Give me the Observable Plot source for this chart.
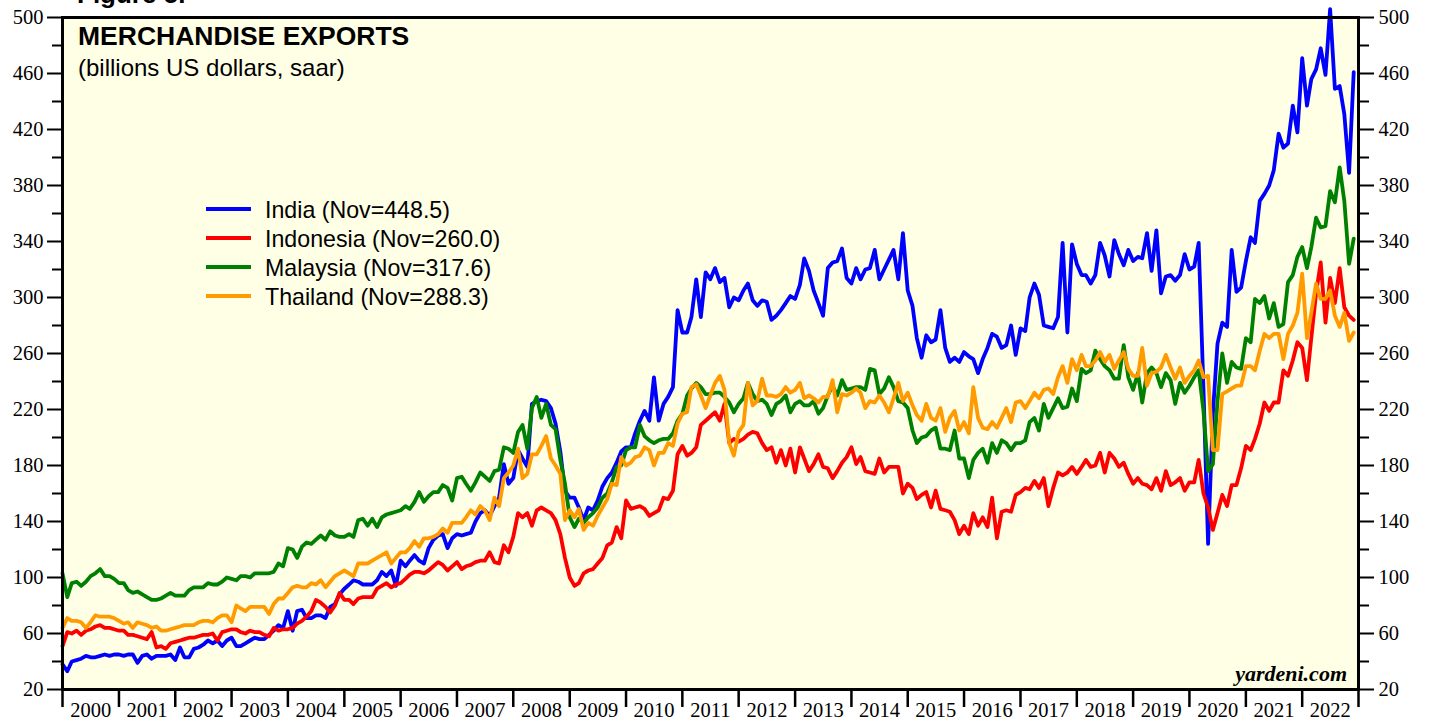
<!DOCTYPE html>
<html>
<head>
<meta charset="utf-8">
<script src="https://cdn.jsdelivr.net/npm/d3@7"></script>
<script src="https://cdn.jsdelivr.net/npm/@observablehq/plot@0.6"></script>
<style>
  html, body { margin: 0; padding: 0; background: #ffffff; }
  #chart { width: 1429px; height: 721px; overflow: hidden; }
</style>
</head>
<body>
<div id="chart"></div>
<script>
// Monthly values, starting January 2000 (one value per month)
const india = [
  38, 33, 40, 41, 42, 44, 43, 43, 44, 45, 44, 45,
  45, 44, 45, 45, 39, 44, 45, 42, 44, 44, 44, 45,
  41, 50, 43, 43, 49, 50, 52, 55, 53, 55, 51, 55,
  57, 51, 51, 53, 55, 57, 56, 56, 59, 62, 66, 64,
  76, 62, 76, 77, 71, 71, 73, 73, 71, 79, 81, 88,
  92, 95, 98, 97, 95, 95, 95, 98, 104, 101, 105, 94,
  112, 108, 112, 116, 112, 110, 121, 127, 130, 131, 121, 128,
  131, 130, 131, 132, 140, 146, 148, 144, 151, 157, 181, 167,
  171, 191, 185, 179, 224, 226, 227, 226, 221, 210, 190, 162,
  157, 157, 150, 141, 150, 148, 155, 165, 171, 175, 182, 190,
  193, 193, 203, 212, 219, 212, 243, 212, 224, 229, 236, 291,
  275, 275, 286, 313, 286, 318, 313, 321, 311, 314, 293, 300,
  298, 305, 310, 298, 294, 298, 297, 284, 287, 291, 296, 301,
  299, 309, 328, 319, 305, 296, 287, 321, 325, 326, 335, 314,
  310, 321, 313, 320, 321, 334, 313, 320, 327, 334, 313, 346,
  305, 294, 271, 257, 273, 268, 270, 291, 264, 254, 257, 254,
  261, 258, 256, 246, 256, 264, 274, 272, 264, 266, 280, 259,
  278, 276, 300, 310, 302, 280, 279, 278, 286, 339, 275, 338,
  324, 316, 316, 310, 316, 339, 330, 315, 341, 331, 323, 334,
  326, 329, 328, 346, 319, 348, 303, 315, 316, 312, 316, 331,
  320, 322, 339, 235, 124, 217, 267, 282, 279, 334, 304, 307,
  326, 343, 339, 369, 374, 380, 391, 417, 407, 410, 437, 418,
  471, 437, 456, 463, 478, 459, 506, 449, 451, 431, 389, 461
];
const indonesia = [
  51, 61, 60, 62, 59, 62, 63, 65, 66, 64, 64, 63,
  62, 62, 59, 59, 58, 57, 56, 61, 50, 51, 49, 53,
  54, 55, 56, 57, 57, 58, 59, 59, 60, 55, 61, 62,
  63, 63, 61, 60, 62, 61, 61, 59, 58, 64, 62, 63,
  63, 64, 67, 69, 72, 76, 84, 82, 79, 75, 80, 89,
  84, 84, 81, 85, 86, 86, 86, 92, 94, 96, 93, 95,
  96, 99, 102, 104, 104, 103, 105, 108, 111, 109, 105, 108,
  111, 106, 108, 109, 111, 112, 112, 118, 111, 110, 123, 118,
  129, 146, 143, 146, 137, 148, 150, 148, 146, 141, 131, 114,
  100, 94, 96, 103, 105, 106, 110, 114, 123, 125, 136, 128,
  155, 149, 150, 151, 149, 144, 146, 148, 157, 156, 162, 188,
  194, 187, 189, 193, 209, 212, 215, 218, 212, 224, 196, 199,
  197, 199, 202, 204, 203, 196, 191, 193, 182, 191, 180, 192,
  175, 193, 185, 176, 181, 188, 179, 178, 171, 176, 182, 186,
  193, 181, 186, 176, 175, 174, 185, 175, 179, 179, 179, 160,
  167, 164, 156, 159, 161, 150, 162, 149, 148, 147, 141, 131,
  137, 131, 146, 137, 143, 136, 157, 128, 147, 148, 147, 159,
  161, 164, 163, 169, 164, 171, 151, 164, 175, 173, 175, 179,
  174, 179, 184, 179, 180, 189, 175, 189, 185, 179, 182, 174,
  167, 171, 167, 166, 163, 171, 162, 176, 166, 168, 171, 162,
  168, 168, 184, 160, 150, 134, 146, 159, 151, 166, 166, 178,
  194, 191, 199, 210, 225, 219, 225, 225, 248, 244, 255, 268,
  264, 241, 271, 303, 325, 282, 314, 296, 321, 293, 287, 284
];
const malaysia = [
  103, 86, 96, 97, 94, 97, 101, 103, 106, 101, 101, 99,
  96, 96, 91, 89, 90, 88, 86, 84, 84, 85, 87, 89,
  87, 87, 87, 91, 93, 93, 93, 96, 95, 95, 97, 100,
  99, 98, 101, 101, 100, 103, 103, 103, 103, 104, 110, 108,
  121, 120, 114, 122, 125, 124, 127, 130, 127, 133, 130, 129,
  129, 131, 129, 141, 142, 137, 142, 136, 143, 145, 146, 147,
  148, 151, 149, 154, 161, 154, 158, 161, 161, 166, 164, 155,
  171, 172, 167, 162, 168, 175, 172, 169, 176, 177, 193, 192,
  189, 204, 209, 192, 221, 229, 214, 224, 209, 206, 184, 167,
  143, 136, 142, 139, 143, 146, 150, 157, 160, 168, 179, 180,
  191, 193, 193, 209, 201, 198, 196, 198, 199, 199, 203, 212,
  217, 230, 235, 239, 236, 231, 231, 232, 232, 229, 225, 218,
  224, 228, 239, 231, 226, 227, 224, 216, 224, 226, 230, 218,
  224, 226, 223, 223, 226, 217, 221, 230, 237, 230, 241, 234,
  235, 236, 236, 234, 249, 248, 231, 235, 243, 236, 226, 225,
  221, 205, 196, 200, 201, 205, 207, 192, 192, 191, 205, 185,
  185, 171, 184, 189, 192, 182, 196, 189, 198, 196, 191, 196,
  196, 198, 211, 214, 205, 224, 214, 221, 228, 221, 222, 235,
  226, 249, 246, 248, 262, 256, 251, 248, 242, 242, 266, 243,
  234, 246, 225, 246, 250, 246, 236, 246, 241, 224, 239, 232,
  237, 243, 248, 219, 176, 181, 226, 260, 239, 254, 250, 249,
  271, 268, 299, 296, 301, 285, 296, 279, 281, 311, 316, 329,
  336, 321, 336, 357, 350, 351, 376, 368, 393, 369, 324, 342
];
const thailand = [
  64, 71, 69, 69, 68, 64, 68, 73, 72, 72, 72, 71,
  69, 67, 68, 64, 68, 67, 66, 64, 65, 62, 62, 63,
  64, 65, 66, 66, 66, 68, 69, 69, 68, 71, 73, 73,
  68, 80, 78, 76, 79, 79, 79, 79, 74, 81, 85, 85,
  89, 93, 94, 93, 93, 96, 95, 98, 93, 97, 101, 103,
  105, 103, 101, 110, 110, 110, 112, 114, 116, 118, 110, 114,
  118, 118, 121, 126, 122, 128, 128, 129, 131, 135, 132, 139,
  139, 139, 143, 148, 145, 151, 148, 141, 157, 151, 171, 175,
  180, 192, 171, 174, 188, 188, 194, 201, 185, 180, 174, 141,
  148, 143, 149, 134, 139, 137, 144, 150, 156, 167, 166, 186,
  180, 182, 186, 187, 193, 191, 180, 189, 189, 196, 194, 210,
  217, 218, 236, 238, 230, 221, 230, 239, 244, 234, 196, 187,
  204, 209, 239, 223, 226, 242, 230, 230, 229, 231, 236, 232,
  234, 239, 228, 230, 228, 225, 229, 229, 241, 218, 231, 230,
  232, 235, 232, 221, 226, 225, 230, 225, 218, 228, 239, 226,
  232, 223, 216, 212, 224, 214, 212, 221, 204, 214, 219, 205,
  211, 203, 236, 214, 207, 206, 211, 207, 214, 221, 211, 225,
  226, 221, 226, 232, 228, 234, 235, 231, 243, 251, 239, 256,
  248, 259, 251, 251, 255, 261, 254, 259, 249, 255, 261, 249,
  244, 244, 264, 237, 246, 247, 250, 259, 250, 242, 250, 239,
  244, 248, 255, 243, 244, 191, 191, 231, 233, 235, 237, 237,
  251, 251, 248, 262, 274, 271, 274, 274, 256, 274, 280, 289,
  317, 271, 289, 310, 299, 299, 305, 287, 279, 289, 269, 275
];

const seriesNames = ["India", "Indonesia", "Malaysia", "Thailand"];
const legendLabels = ["India (Nov=448.5)", "Indonesia (Nov=260.0)", "Malaysia (Nov=317.6)", "Thailand (Nov=288.3)"];
const seriesColors = ["#0000ff", "#ff0000", "#008000", "#ff9a00"];
const yTicks = [20, 60, 100, 140, 180, 220, 260, 300, 340, 380, 420, 460, 500];
const yMinorTicks = [40, 80, 120, 160, 200, 240, 280, 320, 360, 400, 440, 480];
const years = d3.range(2000, 2023);
const titleText = "MERCHANDISE EXPORTS";
const subtitleText = "(billions US dollars, saar)";
const figureText = "Figure 5.";
const sourceText = "yardeni.com";

const allSeries = [india, indonesia, malaysia, thailand];
const rows = allSeries.map((arr, s) => arr.map((v, i) => ({
  date: new Date(Date.UTC(2000, i, 1)), value: v, series: seriesNames[s]
})));

const yearStarts = d3.range(2000, 2024).map(y => new Date(Date.UTC(y, 0, 1)));
const yearMids = years.map(y => new Date(Date.UTC(y, 6, 2)));

const serif = "'Liberation Serif', 'Times New Roman', serif";
const sans = "'Liberation Sans', Arial, Helvetica, sans-serif";

const chart = Plot.plot({
  width: 1429,
  height: 721,
  marginLeft: 62,
  marginRight: 71,
  marginTop: 17,
  marginBottom: 32,
  style: { background: "#ffffff", fontFamily: serif, fontSize: "20px", color: "#000", overflow: "visible" },
  x: { type: "utc", domain: [yearStarts[0], yearStarts[yearStarts.length - 1]] },
  y: { domain: [20, 500] },
  marks: [
    Plot.frame({ fill: "#ffffe5", stroke: "#000", strokeWidth: 2.5 }),
    ...rows.map((r, s) => Plot.lineY(r, {
      x: "date", y: "value", stroke: seriesColors[s], strokeWidth: 3.8,
      strokeLinejoin: "round", strokeLinecap: "round"
    })),
    // left axis
    Plot.axisY({ anchor: "left", ticks: yTicks, tickSize: 15, tickPadding: 4, tickFormat: d => String(d), fontSize: 20.5, fontFamily: serif, strokeWidth: 2, label: null }),
    Plot.axisY({ anchor: "left", ticks: yMinorTicks, tickSize: 10, tickFormat: () => "", strokeWidth: 2, label: null }),
    // right axis
    Plot.axisY({ anchor: "right", ticks: yTicks, tickSize: 15, tickPadding: 5, tickFormat: d => String(d), fontSize: 20.5, fontFamily: serif, strokeWidth: 2, label: null }),
    Plot.axisY({ anchor: "right", ticks: yMinorTicks, tickSize: 10, tickFormat: () => "", strokeWidth: 2, label: null }),
    // bottom axis: year boundary ticks and centred year labels
    Plot.axisX({ anchor: "bottom", ticks: yearStarts, tickSize: 18, tickFormat: () => "", strokeWidth: 2.5, label: null }),
    Plot.axisX({ anchor: "bottom", ticks: yearMids, tickSize: 0, tickPadding: 13, tickFormat: d => String(d.getUTCFullYear()), fontSize: 20.5, fontFamily: serif, label: null }),
    Plot.frame({ stroke: "#000", strokeWidth: 3 })
  ]
});

document.getElementById("chart").appendChild(chart);

// annotations inside the plot area
const svg = d3.select(chart);
const ann = svg.append("g").attr("text-anchor", "start");
ann.append("text").attr("x", 77).attr("y", 3).attr("text-anchor", "start").attr("font-family", sans).attr("font-weight", "bold")
  .attr("font-size", 26).attr("fill", "#000").text(figureText);
ann.append("text").attr("x", 78).attr("y", 45).attr("text-anchor", "start").attr("font-family", sans).attr("font-weight", "bold")
  .attr("font-size", 26.5).attr("fill", "#000").text(titleText);
ann.append("text").attr("x", 78).attr("y", 76).attr("text-anchor", "start").attr("font-family", sans)
  .attr("font-size", 24).attr("fill", "#000").text(subtitleText);
ann.append("text").attr("x", 1347).attr("y", 681).attr("text-anchor", "end").attr("font-family", serif)
  .attr("font-weight", "bold").attr("font-style", "italic").attr("font-size", 22).attr("fill", "#000").text(sourceText);

const leg = svg.append("g").attr("text-anchor", "start");
legendLabels.forEach((lab, i) => {
  const yy = 209 + i * 29;
  leg.append("line").attr("x1", 206).attr("x2", 251).attr("y1", yy).attr("y2", yy)
    .attr("stroke", seriesColors[i]).attr("stroke-width", 4);
  leg.append("text").attr("x", 265).attr("y", yy + 8.5).attr("text-anchor", "start").attr("font-family", sans)
    .attr("font-size", 23.2).attr("fill", "#000").text(lab);
});
</script>
</body>
</html>
